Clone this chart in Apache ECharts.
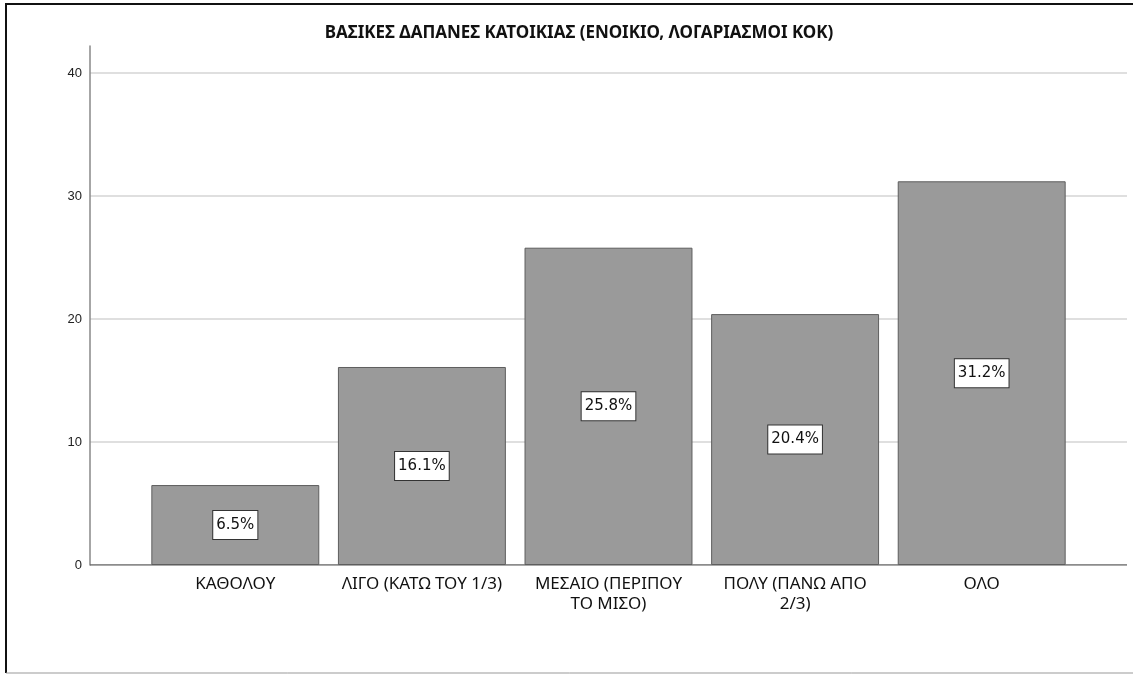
<!DOCTYPE html>
<html>
<head>
<meta charset="utf-8">
<script src="https://cdn.jsdelivr.net/npm/echarts@6/dist/echarts.min.js"></script>
<style>
  html, body { margin: 0; padding: 0; background: #fff; }
  #chart { width: 1133px; height: 674px; }
</style>
</head>
<body>
<div id="chart"></div>
<script>
const titleText = 'ΒΑΣΙΚΕΣ ΔΑΠΑΝΕΣ ΚΑΤΟΙΚΙΑΣ (ΕΝΟΙΚΙΟ, ΛΟΓΑΡΙΑΣΜΟΙ ΚΟΚ)';
const categories = [
  'ΚΑΘΟΛΟΥ',
  'ΛΙΓΟ (ΚΑΤΩ ΤΟΥ 1/3)',
  'ΜΕΣΑΙΟ (ΠΕΡΙΠΟΥ\nΤΟ ΜΙΣΟ)',
  'ΠΟΛΥ (ΠΑΝΩ ΑΠΟ\n2/3)',
  'ΟΛΟ'
];
const percentages = [6.5, 16.1, 25.8, 20.4, 31.2];
const yMin = 0;
const yMax = 42.2;
const yStep = 10;

const chart = echarts.init(document.getElementById('chart'));

const options = {
  animation: false,
  backgroundColor: '#fff',
  title: {
    text: titleText,
    left: 574,
    textAlign: 'center',
    top: 20,
    textStyle: { fontFamily: 'Noto Sans', fontSize: 17, fontWeight: 'bold', color: '#111' }
  },
  // outer frame like the source export
  graphic: [
    {
      type: 'polyline',
      shape: { points: [[6, 673], [6, 4], [1133, 4]] },
      style: { stroke: '#111', lineWidth: 2, fill: null }
    },
    {
      type: 'line',
      shape: { x1: 6, y1: 673, x2: 1133, y2: 673 },
      style: { stroke: '#999', lineWidth: 1 }
    }
  ],
  grid: [
    // full-width grid: axis lines and gridlines
    { left: 90, right: 6, top: 46, bottom: 109 },
    // inner grid: bars and category labels
    { left: 142, right: 58, top: 46, bottom: 109 }
  ],
  xAxis: [
    {
      gridIndex: 0,
      type: 'value',
      min: 0,
      max: 1,
      axisLine: { show: false },
      axisTick: { show: false },
      axisLabel: { show: false },
      splitLine: { show: false }
    },
    {
      gridIndex: 1,
      type: 'category',
      data: categories,
      axisLine: { show: false },
      axisTick: { show: false },
      axisLabel: {
        interval: 0,
        margin: 9,
        fontFamily: 'Noto Sans',
        fontSize: 17,
        color: '#111',
        lineHeight: 20
      }
    }
  ],
  yAxis: [
    {
      gridIndex: 0,
      type: 'value',
      min: yMin,
      max: yMax,
      interval: yStep,
      axisLine: { show: true, lineStyle: { color: '#888', width: 1.5 } },
      axisTick: { show: false },
      axisLabel: {
        showMaxLabel: false,
        margin: 8,
        fontFamily: 'Liberation Sans',
        fontSize: 13,
        color: '#222'
      },
      splitLine: {
        show: true,
        showMinLine: false,
        showMaxLine: false,
        lineStyle: { color: '#d4d4d4', width: 1.5 }
      }
    },
    {
      gridIndex: 1,
      type: 'value',
      min: yMin,
      max: yMax,
      interval: yStep,
      show: false,
      splitLine: { show: false }
    }
  ],
  series: [
    {
      // x axis baseline across the full width
      type: 'line',
      xAxisIndex: 0,
      yAxisIndex: 0,
      data: [[0, 0], [1, 0]],
      symbol: 'none',
      lineStyle: { color: '#666', width: 1.5 },
      silent: true,
      z: 1
    },
    {
      type: 'bar',
      xAxisIndex: 1,
      yAxisIndex: 1,
      data: percentages,
      barCategoryGap: '10%',
      itemStyle: {
        color: '#9a9a9a',
        borderColor: '#5e5e5e',
        borderWidth: 1
      },
      label: {
        show: true,
        position: 'inside',
        formatter: p => p.value.toFixed(1) + '%',
        fontFamily: 'DejaVu Sans',
        fontSize: 15,
        color: '#111',
        backgroundColor: '#fff',
        borderColor: '#333',
        borderWidth: 1,
        padding: [7, 3, 6, 3]
      },
      z: 2
    }
  ]
};

chart.setOption(options);
</script>
</body>
</html>
